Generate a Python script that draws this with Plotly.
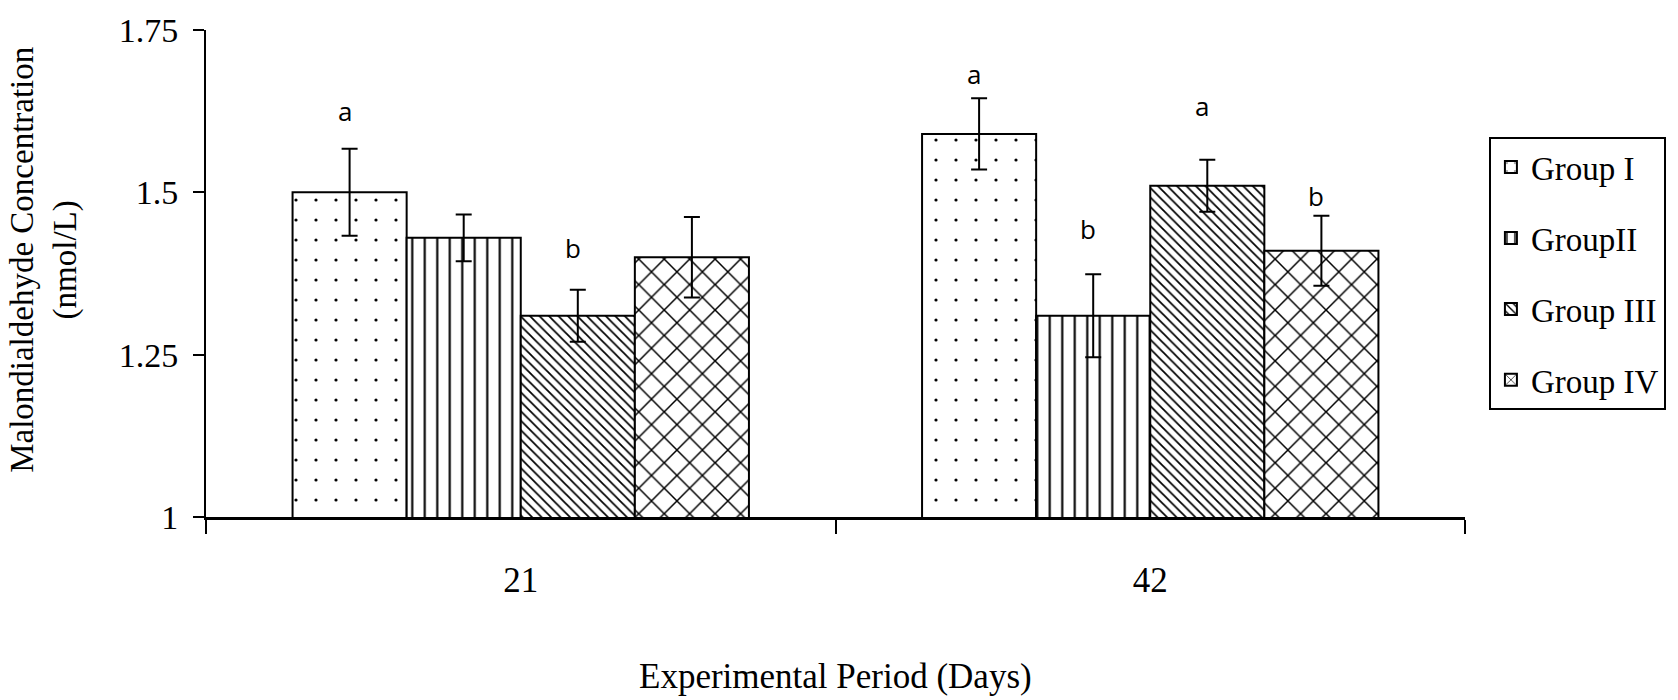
import plotly.graph_objects as go

# Experimental period (days) and treatment groups
days = ["21", "42"]
group_names = ["Group I", "GroupII", "Group III", "Group IV"]

# Mean malondialdehyde concentration (nmol/L) per group at each period
group1_mean = [1.50, 1.59]
group2_mean = [1.43, 1.31]
group3_mean = [1.31, 1.51]
group4_mean = [1.40, 1.41]

# Standard error of each mean
group1_err = [0.067, 0.055]
group2_err = [0.036, 0.064]
group3_err = [0.040, 0.040]
group4_err = [0.062, 0.054]

# Significance letters (empty where none is shown)
group1_letters = ["a", "a"]
group2_letters = ["", "b"]
group3_letters = ["b", "a"]
group4_letters = ["", "b"]

y_ticks = [1, 1.25, 1.5, 1.75]
y_tick_text = ["1", "1.25", "1.5", "1.75"]

means = [group1_mean, group2_mean, group3_mean, group4_mean]
errs = [group1_err, group2_err, group3_err, group4_err]
letters = [group1_letters, group2_letters, group3_letters, group4_letters]

# Black-and-white fill patterns for the four groups
patterns = [
    dict(shape=".", size=20, solidity=0.02),
    dict(shape="|", size=12.5, solidity=0.17),
    dict(shape="\\", size=6.7, solidity=0.26),
    dict(shape="x", size=18, solidity=0.16),
]

# Vertical offset (px) of each letter above its error bar: [group][day]
letter_shift = [[38, 24], [0, 45], [42, 54], [0, 20]]

SERIF = "Liberation Serif"
BARGAP = 0.275

fig = go.Figure()
for g in range(4):
    pat = dict(fgcolor="black", bgcolor="white", fillmode="replace", **patterns[g])
    fig.add_trace(go.Bar(
        x=days,
        y=means[g],
        name=group_names[g],
        legendgroup=f"g{g}",
        marker=dict(color="white", pattern=pat, line=dict(color="black", width=2)),
        error_y=dict(type="data", array=errs[g], visible=True,
                     color="black", thickness=2, width=8),
    ))

# Letters above the bars
bar_w = (1 - BARGAP) / 4
annotations = []
for g in range(4):
    for d in range(len(days)):
        txt = letters[g][d]
        if not txt:
            continue
        annotations.append(dict(
            x=d + (g - 1.5) * bar_w, y=means[g][d] + errs[g][d],
            xref="x", yref="y", text=txt, showarrow=False,
            yanchor="middle", yshift=letter_shift[g][d], xshift=-5,
            font=dict(family="Open Sans", size=26, color="black"),
        ))

# Axis titles
annotations.append(dict(
    x=0.5, y=0, xref="paper", yref="paper", yanchor="middle",
    yshift=-159, text="Experimental Period (Days)", showarrow=False,
    font=dict(family=SERIF, size=35, color="black"),
))
annotations.append(dict(
    x=0, y=0.528, xref="paper", yref="paper", xanchor="center",
    xshift=-162, text="Malondialdehyde Concentration<br>(nmol/L)",
    textangle=-90, showarrow=False,
    font=dict(family=SERIF, size=33, color="black"),
))

fig.update_layout(
    width=1678, height=700,
    margin=dict(l=206, r=212, t=25, b=183, pad=0),
    paper_bgcolor="white", plot_bgcolor="white",
    barmode="group", bargap=BARGAP, bargroupgap=0,
    showlegend=True,
    legend=dict(
        x=1.019, xanchor="left", y=0.78, yanchor="top",
        bordercolor="black", borderwidth=2, bgcolor="white",
        font=dict(family=SERIF, size=33, color="black"),
        traceorder="grouped", tracegroupgap=25, itemwidth=30,
    ),
    annotations=annotations,
    xaxis=dict(
        type="category", range=[-0.5, 1.5],
        showline=True, linecolor="black", linewidth=3,
        ticks="outside", tickson="boundaries", ticklen=14, tickwidth=2,
        tickcolor="black", ticklabelstandoff=30,
        tickfont=dict(family=SERIF, size=35, color="black"),
        showgrid=False, zeroline=False,
    ),
    yaxis=dict(
        range=[1, 1.75], tickvals=y_ticks, ticktext=y_tick_text,
        showline=True, linecolor="black", linewidth=2,
        ticks="outside", ticklen=11, tickwidth=2, tickcolor="black",
        ticklabelstandoff=8,
        tickfont=dict(family=SERIF, size=34, color="black"),
        showgrid=False, zeroline=False,
    ),
)

fig.write_html("out.html")
